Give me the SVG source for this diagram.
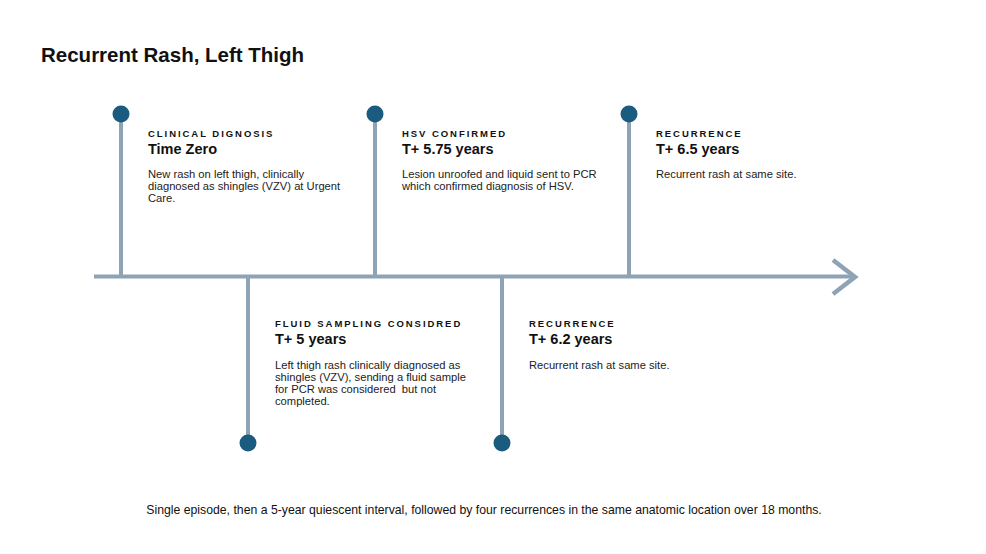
<svg xmlns="http://www.w3.org/2000/svg" width="986" height="554" viewBox="0 0 986 554">
<style>
text{font-family:"Liberation Sans",Arial,sans-serif;fill:#111}
.ln{stroke:#8ea3b5;stroke-width:4;fill:none}
.dot{fill:#1b5b7f}
.lab{font-size:9.5px;font-weight:bold;letter-spacing:1.95px}
.ttl{font-size:14.5px;font-weight:bold}
.body{font-size:11.2px;fill:#222}
</style>
<rect width="986" height="554" fill="#fff"/>
<text x="41" y="62" style="font-size:20.5px;font-weight:bold">Recurrent Rash, Left Thigh</text>
<g id="connectors">
<line class="ln" x1="94" y1="276.5" x2="854" y2="276.5"/>
<polyline class="ln" style="stroke-width:4.5" points="833,260 855,277 833,294"/>
<line class="ln" x1="121" y1="114" x2="121" y2="276"/>
<line class="ln" x1="375" y1="114" x2="375" y2="276"/>
<line class="ln" x1="629" y1="114" x2="629" y2="276"/>
<line class="ln" x1="248" y1="277" x2="248" y2="443"/>
<line class="ln" x1="502" y1="277" x2="502" y2="443"/>
</g>
<g id="n1">
<circle class="dot" cx="121" cy="114" r="8.5"/>
<text class="lab" x="148" y="137">CLINICAL DIGNOSIS</text>
<text class="ttl" x="148" y="154">Time Zero</text>
<text class="body" x="148" y="178">New rash on left thigh, clinically</text>
<text class="body" x="148" y="190">diagnosed as shingles (VZV) at Urgent</text>
<text class="body" x="148" y="202">Care.</text>
</g>
<g id="n2">
<circle class="dot" cx="248" cy="443" r="8.5"/>
<text class="lab" x="275" y="327">FLUID SAMPLING CONSIDRED</text>
<text class="ttl" x="275" y="344">T+ 5 years</text>
<text class="body" x="275" y="369">Left thigh rash clinically diagnosed as</text>
<text class="body" x="275" y="381">shingles (VZV), sending a fluid sample</text>
<text class="body" x="275" y="393" xml:space="preserve">for PCR was considered  but not</text>
<text class="body" x="275" y="405">completed.</text>
</g>
<g id="n3">
<circle class="dot" cx="375" cy="114" r="8.5"/>
<text class="lab" x="402" y="137">HSV CONFIRMED</text>
<text class="ttl" x="402" y="154">T+ 5.75 years</text>
<text class="body" x="402" y="178">Lesion unroofed and liquid sent to PCR</text>
<text class="body" x="402" y="190">which confirmed diagnosis of HSV.</text>
</g>
<g id="n4">
<circle class="dot" cx="502" cy="443" r="8.5"/>
<text class="lab" x="529" y="327">RECURRENCE</text>
<text class="ttl" x="529" y="344">T+ 6.2 years</text>
<text class="body" x="529" y="369">Recurrent rash at same site.</text>
</g>
<g id="n5">
<circle class="dot" cx="629" cy="114" r="8.5"/>
<text class="lab" x="656" y="137">RECURRENCE</text>
<text class="ttl" x="656" y="154">T+ 6.5 years</text>
<text class="body" x="656" y="178">Recurrent rash at same site.</text>
</g>
<text x="484" y="514" text-anchor="middle" style="font-size:12.25px">Single episode, then a 5-year quiescent interval, followed by four recurrences in the same anatomic location over 18 months.</text>
</svg>
